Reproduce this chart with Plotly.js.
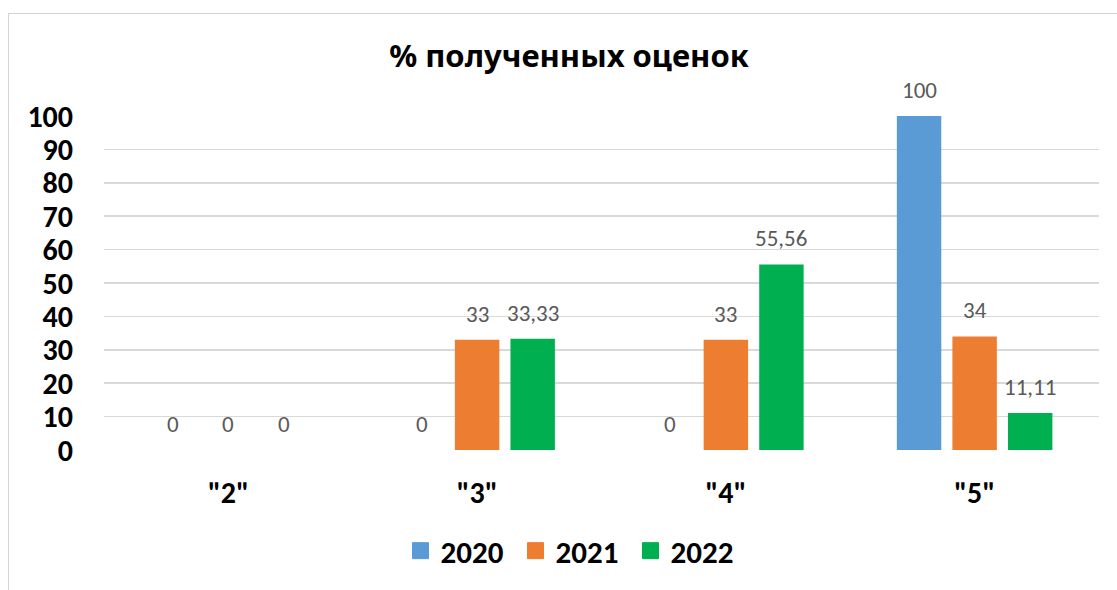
<!DOCTYPE html>
<html>
<head>
<meta charset="utf-8">
<script src="https://cdn.plot.ly/plotly-3.0.1.min.js"></script>
<style>
html,body{margin:0;padding:0;background:#fff;overflow:hidden;}
#chart{width:1117px;height:590px;position:absolute;left:0;top:0;}
#frame{position:absolute;left:8px;top:13px;width:1200px;height:700px;border:1px solid #d4d4d4;box-sizing:border-box;pointer-events:none;}
</style>
</head>
<body>
<div id="chart"></div>
<div id="frame"></div>
<script>
const categories = ['"2"', '"3"', '"4"', '"5"'];
const seriesNames = ['2020', '2021', '2022'];
const values2020 = [0, 0, 0, 100];
const values2021 = [0, 33, 33, 34];
const values2022 = [0, 33.33, 55.56, 11.11];
const colors = ['#5B9BD5', '#ED7D31', '#00B050'];
const yTicks = [0, 10, 20, 30, 40, 50, 60, 70, 80, 90, 100];

const FONT = 'Carlito, Lato, "Noto Sans", sans-serif';
const TITLE_FONT = '"Noto Sans", "Open Sans", sans-serif';
const allValues = [values2020, values2021, values2022];

const margin = {l: 104, r: 18, t: 116, b: 140};
const bargap = 0.33;
const bargroupgap = 0.2;

const traces = allValues.map((vals, i) => ({
  type: 'bar',
  name: seriesNames[i],
  x: categories,
  y: vals,
  marker: {color: colors[i]},
  hoverinfo: 'none',
  showlegend: false,
  legendgroup: seriesNames[i]
}));

// legend-only entries with larger square swatches
seriesNames.forEach((n, i) => {
  traces.push({
    type: 'scatter', mode: 'markers',
    name: n, x: [null], y: [null],
    marker: {symbol: 'square', size: 16, color: colors[i], line: {color: colors[i], width: 1}},
    legendgroup: n, showlegend: true, hoverinfo: 'none'
  });
});

const plotW = 1117 - margin.l - margin.r;
const catW = plotW / categories.length;
const slot = catW * (1 - bargap) / seriesNames.length;

const fmt = v => String(v).replace('.', ',');
const annotations = [];
allValues.forEach((vals, s) => {
  vals.forEach((v, c) => {
    annotations.push({
      x: categories[c], y: v, xref: 'x', yref: 'y',
      text: fmt(v), showarrow: false,
      xshift: (s - 1) * slot, yshift: 26,
      yanchor: 'middle', xanchor: 'center',
      font: {family: FONT, size: 23, color: '#595959'}
    });
  });
});

const layout = {
  width: 1117, height: 590,
  margin: margin,
  paper_bgcolor: 'rgba(0,0,0,0)',
  plot_bgcolor: 'rgba(0,0,0,0)',
  separators: ',.',
  barmode: 'group',
  bargap: bargap,
  bargroupgap: bargroupgap,
  title: {
    text: '% полученных оценок',
    x: 569 / 1117, xanchor: 'center', xref: 'container',
    y: 1 - 56 / 590, yanchor: 'middle', yref: 'container',
    font: {family: TITLE_FONT, size: 31, color: '#000', weight: 'bold'}
  },
  xaxis: {
    type: 'category',
    showgrid: false, zeroline: false, showline: false,
    ticks: '',
    ticklabelstandoff: 22,
    tickfont: {family: FONT, size: 30, color: '#000', weight: 'bold'}
  },
  yaxis: {
    range: [0, 100],
    tickvals: yTicks,
    showgrid: true, gridcolor: '#d9d9d9', gridwidth: 1.5,
    zeroline: false, showline: false,
    ticks: '',
    ticklabelstandoff: 30,
    tickfont: {family: FONT, size: 30, color: '#000', weight: 'bold'}
  },
  legend: {
    orientation: 'h',
    x: 573 / 1117, xanchor: 'center', xref: 'container',
    y: 1 - 551 / 590, yanchor: 'middle', yref: 'container',
    font: {family: FONT, size: 31, color: '#000', weight: 'bold'},
    itemwidth: 30,
    itemsizing: 'trace',
    entrywidth: 70, entrywidthmode: 'pixels',
    traceorder: 'normal'
  },
  annotations: annotations,
  showlegend: true
};

Plotly.newPlot('chart', traces, layout, {staticPlot: true, displayModeBar: false});
</script>
</body>
</html>
